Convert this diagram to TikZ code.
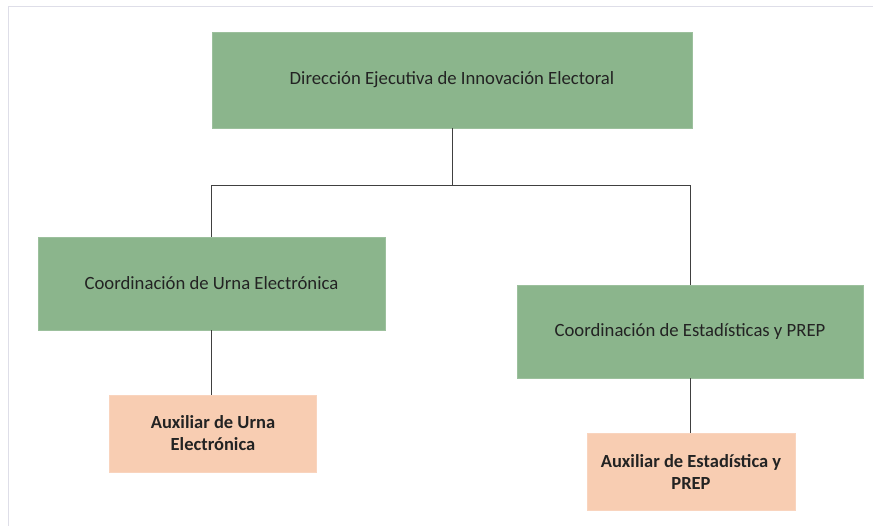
\documentclass[tikz,border=0pt]{standalone}
\usepackage{fontspec}
\setmainfont{Carlito}
\usetikzlibrary{arrows}
\definecolor{boxgreen}{RGB}{139,181,140}
\definecolor{boxpink}{RGB}{248,205,178}
\definecolor{textgray}{RGB}{35,35,35}
\definecolor{framegray}{RGB}{222,222,232}
\tikzset{
  >=latex,
  unidad/.style = {draw=#1!85!white, fill = #1, text = textgray,
                   line width=0.6pt, inner sep=0, align=center,
                   font=\fontsize{18.7}{22}\selectfont},
  unidad/.default = boxgreen,
  auxiliar/.style = {unidad=boxpink, font=\fontsize{18.5}{22}\selectfont\bfseries},
  linea/.style = {draw, line width=0.8pt, color=black!75}
}
\begin{document}
\begin{tikzpicture}[x=1pt,y=-1pt]
\useasboundingbox (0,0) rectangle (873,525);
\draw[framegray, line width=1pt] (8,530) -- (8,6) -- (880,6);
\node[unidad, minimum width=480, minimum height=96] (dir) at (452,80)
  {Dirección Ejecutiva de Innovación Electoral};
\node[unidad, minimum width=347, minimum height=93] (urna) at (211.5,283.5)
  {Coordinación de Urna Electrónica};
\node[unidad, minimum width=346, minimum height=93] (estad) at (690,331.5)
  {Coordinación de Estadísticas y PREP};
\node[auxiliar, minimum width=207, minimum height=77] (auxurna) at (213,433.5)
  {Auxiliar de Urna\\Electrónica};
\node[auxiliar, minimum width=208, minimum height=77] (auxestad) at (691,471.5)
  {Auxiliar de Estadística y\\PREP};
\coordinate (bus) at (452,185);
\path[linea] (dir) -- (bus) -| (urna);
\path[linea] (bus) -| (estad);
\path[linea] (urna) -- (urna.south |- auxurna.north);
\path[linea] (estad) -- (estad.south |- auxestad.north);
\end{tikzpicture}
\end{document}
